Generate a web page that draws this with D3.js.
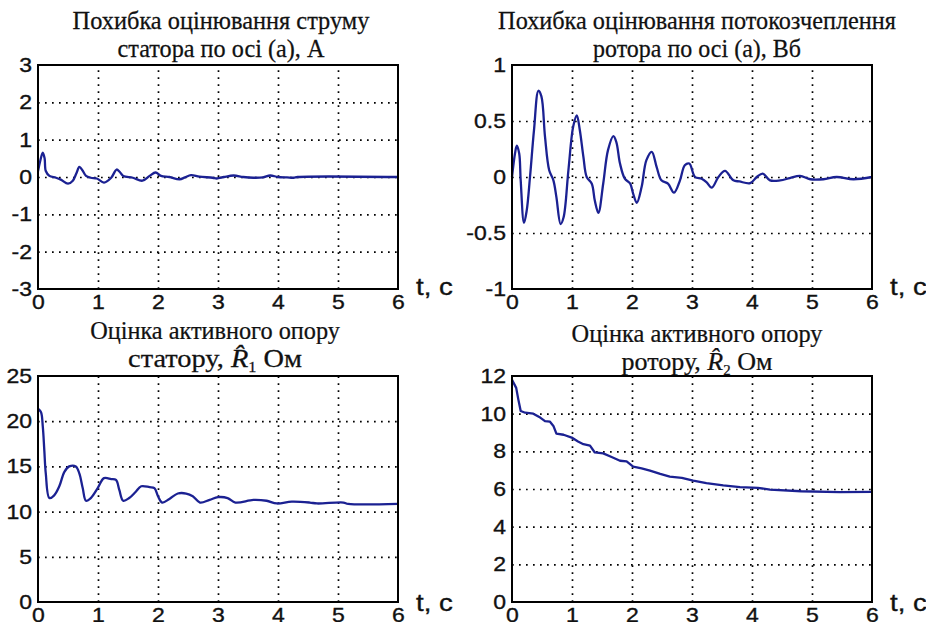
<!DOCTYPE html>
<html>
<head>
<meta charset="utf-8">
<script src="https://cdn.jsdelivr.net/npm/d3@7"></script>
<style>
  body { margin: 0; background: #fff; }
  svg { display: block; }
</style>
</head>
<body>
<script>
// --- data ---
const tCurr = [0, 0.04, 0.08, 0.11, 0.13, 0.19, 0.3, 0.38, 0.5, 0.58, 0.64, 0.69, 0.74, 0.8, 0.88, 0.98, 1.1, 1.22, 1.31, 1.36, 1.42, 1.58, 1.74, 1.86, 1.96, 2.05, 2.19, 2.36, 2.45, 2.55, 2.69, 2.91, 2.98, 3.1, 3.26, 3.42, 3.59, 3.75, 3.87, 4.0, 4.15, 4.26, 4.33, 6]
const errCurr = [0.15, 0.45, 0.65, 0.5, 0.16, 0.03, -0.02, -0.07, -0.18, -0.1, 0.1, 0.27, 0.18, 0.03, -0.02, -0.04, -0.15, -0.02, 0.2, 0.14, 0.03, -0.02, -0.1, 0.03, 0.12, 0.03, 0.0, -0.06, -0.01, 0.05, 0.01, -0.02, -0.04, 0, 0.04, 0.0, -0.02, -0.01, 0.04, 0.0, -0.01, -0.02, 0.0, 0]

const tFlux = [0, 0.05, 0.08, 0.12, 0.145, 0.2, 0.245, 0.3, 0.367, 0.44, 0.49, 0.55, 0.62, 0.69, 0.74, 0.81, 0.86, 0.94, 1.02, 1.08, 1.13, 1.19, 1.245, 1.33, 1.38, 1.44, 1.52, 1.6, 1.69, 1.74, 1.8, 1.88, 1.97, 2.02, 2.08, 2.16, 2.24, 2.33, 2.41, 2.49, 2.6, 2.7, 2.8, 2.88, 2.955, 3.05, 3.16, 3.24, 3.33, 3.44, 3.55, 3.69, 3.79, 3.97, 4.08, 4.18, 4.3, 4.47, 4.63, 4.8, 4.97, 5.19, 5.41, 5.69, 6]
const errFlux = [0, 0.21, 0.28, 0.21, -0.03, -0.41, -0.3, 0, 0.42, 0.77, 0.72, 0.36, 0.06, -0.03, -0.18, -0.42, -0.36, 0.06, 0.45, 0.55, 0.42, 0.18, 0, -0.06, -0.21, -0.32, -0.06, 0.24, 0.365, 0.31, 0.12, -0.015, -0.06, -0.15, -0.23, -0.09, 0.15, 0.225, 0.09, -0.03, -0.06, -0.14, -0.03, 0.105, 0.12, 0, -0.015, -0.045, -0.095, 0, 0.055, -0.03, -0.04, -0.055, 0, 0.03, -0.03, -0.03, -0.01, 0.01, -0.02, -0.02, 0, -0.02, 0]

const tR1 = [0, 0.05, 0.08, 0.105, 0.13, 0.19, 0.27, 0.355, 0.44, 0.52, 0.63, 0.69, 0.745, 0.8, 0.88, 0.995, 1.1, 1.22, 1.3, 1.355, 1.42, 1.52, 1.63, 1.72, 1.86, 1.94, 2.0, 2.07, 2.19, 2.33, 2.47, 2.58, 2.7, 2.86, 3.0, 3.16, 3.29, 3.59, 3.81, 3.98, 4.23, 4.53, 4.65, 5.09, 5.17, 6]
const estR1 = [21.4, 21.0, 19.4, 16.8, 14.2, 11.5, 11.8, 12.8, 14.4, 15.0, 15.0, 14.2, 12.6, 11.2, 11.5, 12.6, 13.7, 13.6, 13.5, 12.4, 11.2, 11.5, 12.2, 12.8, 12.7, 12.6, 11.7, 11.0, 11.4, 12.0, 12.0, 11.7, 11.0, 11.3, 11.6, 11.5, 11.0, 11.3, 11.2, 10.9, 11.1, 11.0, 10.9, 11.0, 10.85, 10.85]

const tR2 = [0, 0.07, 0.105, 0.145, 0.22, 0.355, 0.47, 0.55, 0.63, 0.69, 0.74, 0.86, 0.995, 1.1, 1.19, 1.3, 1.38, 1.52, 1.66, 1.8, 1.91, 2.02, 2.16, 2.3, 2.47, 2.63, 2.83, 3.02, 3.24, 3.52, 3.8, 4.1, 4.3, 4.82, 5.46, 6]
const estR2 = [11.8, 11.37, 10.76, 10.14, 10.05, 10.0, 9.79, 9.6, 9.58, 9.35, 8.94, 8.88, 8.73, 8.52, 8.38, 8.3, 7.94, 7.89, 7.7, 7.5, 7.47, 7.19, 7.1, 6.98, 6.8, 6.66, 6.59, 6.45, 6.31, 6.19, 6.1, 6.06, 5.97, 5.88, 5.83, 5.85]

const xTicks = [0, 1, 2, 3, 4, 5, 6]
const yTicksCurr = [-3, -2, -1, 0, 1, 2, 3]
const yTicksFlux = [-1, -0.5, 0, 0.5, 1]
const yTicksR1 = [0, 5, 10, 15, 20, 25]
const yTicksR2 = [0, 2, 4, 6, 8, 10, 12]

const titleCurr = ['Похибка оцінювання струму', 'статора по осі (а), А']
const titleFlux = ['Похибка оцінювання потокозчеплення', 'ротора по осі (а), Вб']
const titleR1 = ['Оцінка активного опору', ['статору,  ', 'R\u0302', '1', '   Ом']]
const titleR2 = ['Оцінка активного опору', ['ротору, ', 'R\u0302', '2', ' Ом']]
const xLabel = 't, c'

// --- drawing ---
const svg = d3.select('body').append('svg')
  .attr('width', 926)
  .attr('height', 622)
  .style('background', '#fff')

const lineColor = '#1b2192'
const ink = '#111'

function fitTitle(g, content, cx, y, width) {
  const t = g.append('text')
    .attr('text-anchor', 'middle')
    .attr('font-family', '"Liberation Serif", "Times New Roman", serif')
    .attr('font-size', 24.5)
    .attr('fill', ink)
    .attr('stroke', ink)
    .attr('stroke-width', 0.25)
  if (typeof content === 'string') {
    t.text(content)
  } else {
    t.append('tspan').text(content[0])
    t.append('tspan').attr('font-style', 'italic').text(content[1])
    t.append('tspan').attr('font-size', 14).attr('dy', 5).text(content[2])
    t.append('tspan').attr('dy', -5).text(content[3])
  }
  const w = t.node().getComputedTextLength()
  t.attr('transform', 'translate(' + cx + ',' + y + ') scale(' + (width / w) + ',1)')
}

function panel(p) {
  const g = svg.append('g')
  const x = d3.scaleLinear().domain([0, 6]).range([p.x0, p.x1])
  const y = d3.scaleLinear().domain(p.yDomain).range([p.y1, p.y0])

  // dotted grid
  const grid = g.append('g')
  grid.append('g')
    .attr('transform', 'translate(0,' + p.y1 + ')')
    .call(d3.axisBottom(x).tickValues(xTicks.slice(1, -1)).tickSize(-(p.y1 - p.y0)).tickFormat(''))
  grid.append('g')
    .attr('transform', 'translate(' + p.x0 + ',0)')
    .call(d3.axisLeft(y).tickValues(p.yTicks.slice(1, -1)).tickSize(-(p.x1 - p.x0)).tickFormat(''))
  grid.selectAll('.domain').remove()
  grid.selectAll('line')
    .attr('stroke', '#000')
    .attr('stroke-width', 1.7)
    .attr('stroke-dasharray', '1.7,5.3')

  // tick labels
  const fmt = d => String(d)
  const xa = g.append('g')
    .attr('transform', 'translate(0,' + p.y1 + ')')
    .call(d3.axisBottom(x).tickValues(xTicks).tickSize(0).tickPadding(6).tickFormat(fmt))
  const ya = g.append('g')
    .attr('transform', 'translate(' + (p.x0 - 6) + ',0)')
    .call(d3.axisLeft(y).tickValues(p.yTicks).tickSize(0).tickPadding(0).tickFormat(fmt))
  ;[xa, ya].forEach(a => {
    a.select('.domain').remove()
    a.selectAll('text')
      .attr('font-family', '"Liberation Sans", Arial, sans-serif')
      .attr('font-size', 20)
      .attr('fill', ink)
      .attr('stroke', ink)
      .attr('stroke-width', 0.35)
      .attr('transform', 'scale(1.15,1)')
  })

  // series
  const line = d3.line()
    .x((d, i) => x(p.t[i]))
    .y(d => y(d))
    .curve(p.curve)
  g.append('path')
    .attr('d', line(p.v))
    .attr('fill', 'none')
    .attr('stroke', lineColor)
    .attr('stroke-width', 2.3)
    .attr('stroke-linejoin', 'round')

  // frame
  g.append('rect')
    .attr('x', p.x0).attr('y', p.y0)
    .attr('width', p.x1 - p.x0).attr('height', p.y1 - p.y0)
    .attr('fill', 'none')
    .attr('stroke', '#000')
    .attr('stroke-width', 2)

  // x label
  g.append('text')
    .attr('transform', 'translate(' + (p.x1 + 18) + ',' + (p.y1 + p.xlabDy) + ') scale(1.15,1)')
    .attr('font-family', '"Liberation Sans", Arial, sans-serif')
    .attr('font-size', 24)
    .attr('fill', ink)
    .attr('stroke', ink)
    .attr('stroke-width', 0.35)
    .text(xLabel)

  // title
  fitTitle(g, p.title[0], p.tx, p.ty[0], p.tw[0])
  fitTitle(g, p.title[1], p.tx, p.ty[1], p.tw[1])
}

panel({ x0: 38, x1: 398, y0: 65, y1: 289, yDomain: [-3, 3], yTicks: yTicksCurr,
  t: tCurr, v: errCurr, curve: d3.curveCatmullRom.alpha(0.5), title: titleCurr,
  tx: 221, ty: [29, 57], tw: [297, 207], xlabDy: 6 })
panel({ x0: 512, x1: 872, y0: 65, y1: 289, yDomain: [-1, 1], yTicks: yTicksFlux,
  t: tFlux, v: errFlux, curve: d3.curveCatmullRom.alpha(0.5), title: titleFlux,
  tx: 697, ty: [29, 57], tw: [398, 208], xlabDy: 6 })
panel({ x0: 38, x1: 398, y0: 376, y1: 602, yDomain: [0, 25], yTicks: yTicksR1,
  t: tR1, v: estR1, curve: d3.curveCatmullRom.alpha(0.5), title: titleR1,
  tx: 215, ty: [339, 367], tw: [250, 174], xlabDy: 9 })
panel({ x0: 512, x1: 872, y0: 376, y1: 602, yDomain: [0, 12], yTicks: yTicksR2,
  t: tR2, v: estR2, curve: d3.curveLinear, title: titleR2,
  tx: 697, ty: [342, 370], tw: [251, 151], xlabDy: 9 })
</script>
</body>
</html>
